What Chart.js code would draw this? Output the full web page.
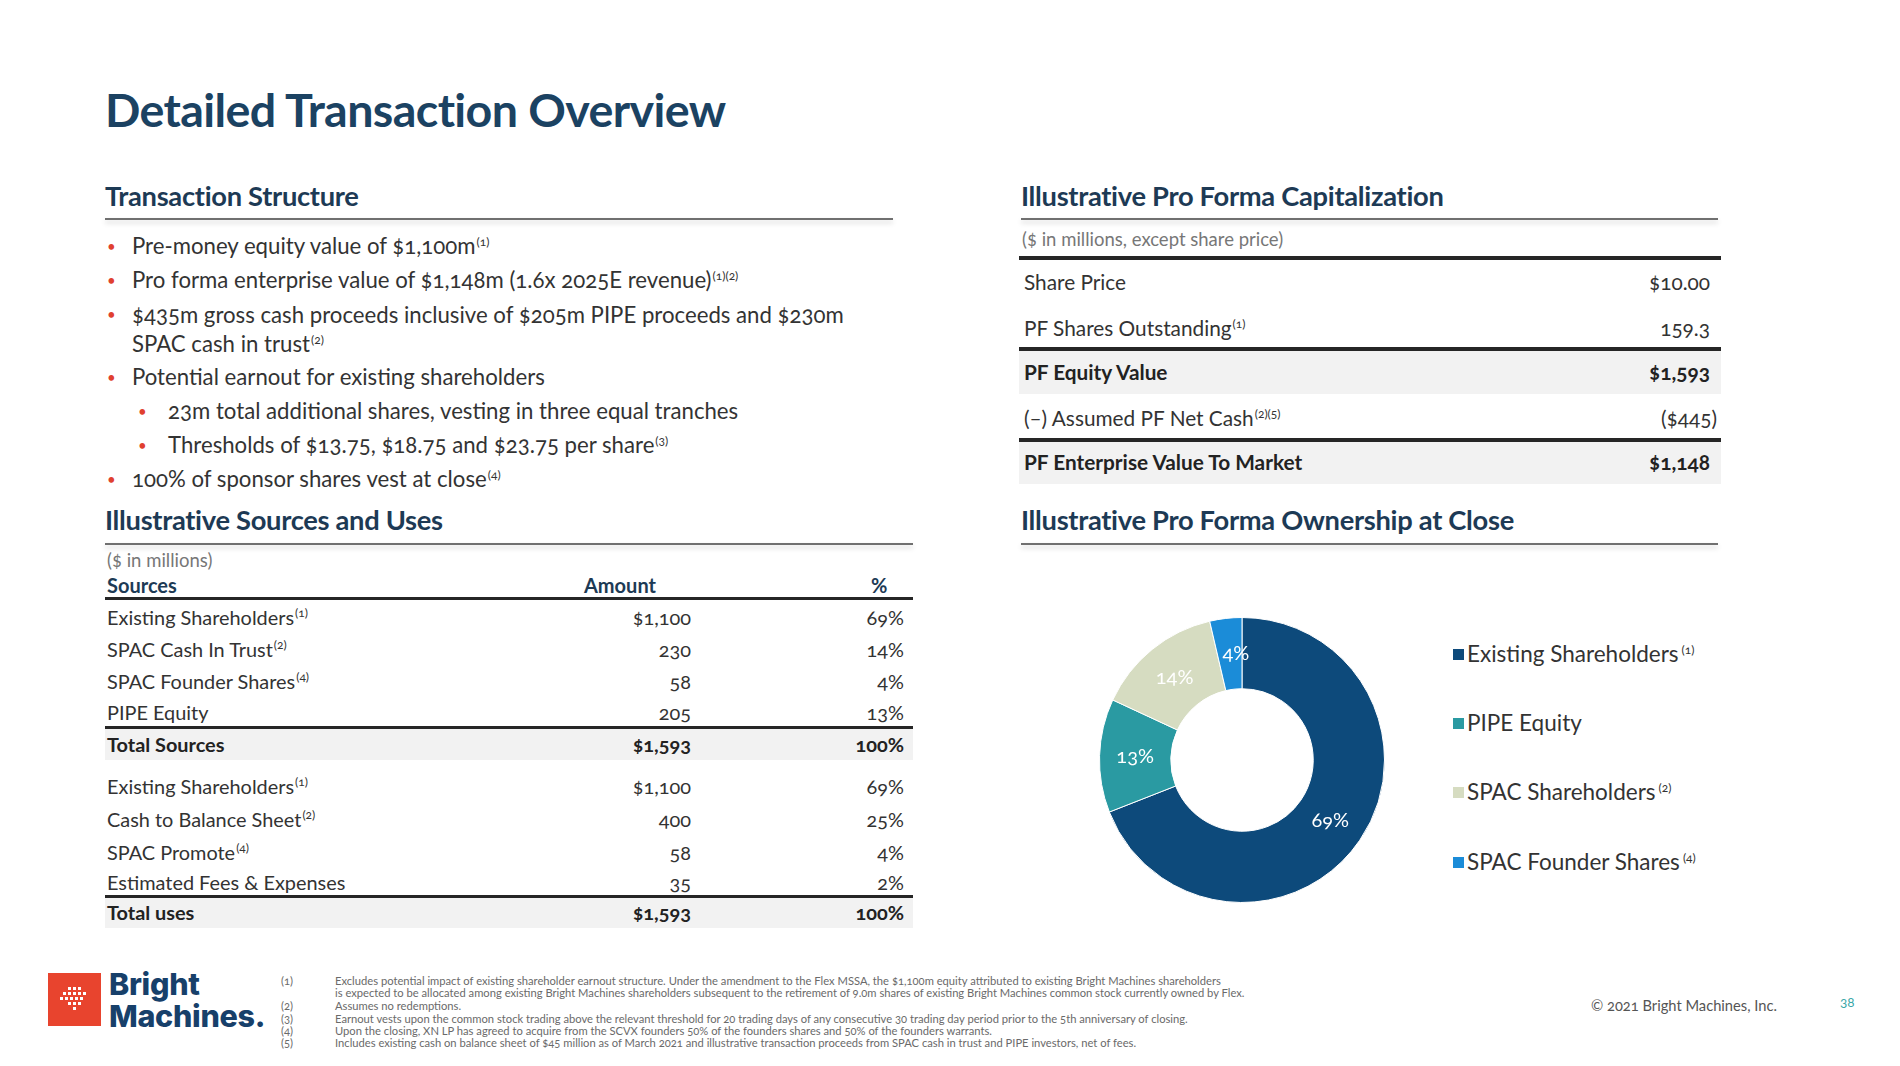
<!DOCTYPE html>
<html><head><meta charset="utf-8">
<script src="https://cdn.jsdelivr.net/npm/chart.js@4.4.1/dist/chart.umd.min.js"></script>
<style>
html,body{margin:0;padding:0;background:#fff;}
body{width:1900px;height:1066px;position:relative;overflow:hidden;font-family:Lato,'Open Sans',sans-serif;color:#333;font-variant-numeric:oldstyle-nums;}
.a{position:absolute;white-space:nowrap;}
.title{left:105px;top:80px;font-size:46.6px;font-weight:700;color:#1b4262;line-height:58px;letter-spacing:-0.6px;}
.h2{font-size:27.3px;color:#1d3a55;line-height:34px;font-weight:700;letter-spacing:-0.3px;}
.rule{position:absolute;height:2px;background:#707070;box-shadow:0 3px 5px rgba(0,0,0,0.18);}
.thick{position:absolute;background:#262626;}
.bg{position:absolute;background:#f2f2f2;}
.b{font-size:22.2px;line-height:28px;color:#333;}
.dot{color:#e0402f;font-size:15px;line-height:28px;}
sup{font-size:12px;vertical-align:top;position:relative;top:-4px;margin-left:1px;}
.t{font-size:19.9px;line-height:26px;color:#333;}
.c{font-size:20.8px;line-height:26px;color:#333;}
.small{font-size:18.5px;line-height:24px;color:#777;}
.bold{font-weight:700;color:#222;}
.hdr{font-size:20px;line-height:26px;color:#1d3a55;font-weight:700;}
.fn{font-size:11.2px;line-height:13px;color:#6a6a6a;}
.leg{font-size:22.5px;line-height:30px;color:#333;}
.sq{position:absolute;width:11px;height:11px;}
.logo{position:absolute;width:160px;white-space:normal;font-family:Inter,Lato,sans-serif;font-size:30.5px;line-height:32px;font-weight:800;color:#17406a;letter-spacing:-0.3px;font-variant-numeric:normal;}
</style></head>
<body>
<div class="a title">Detailed Transaction Overview</div>

<div class="a h2" style="left:105px;top:179px;">Transaction Structure</div>
<div class="rule" style="left:105px;top:218px;width:788px;"></div>
<div id="bullets"></div>

<div class="a h2" style="left:105px;top:503px;">Illustrative Sources and Uses</div>
<div class="rule" style="left:105px;top:543px;width:808px;"></div>
<div id="su"></div>

<div class="a h2" style="left:1021px;top:179px;">Illustrative Pro Forma Capitalization</div>
<div class="rule" style="left:1021px;top:218px;width:697px;"></div>
<div id="cap"></div>

<div class="a h2" style="left:1021px;top:503px;">Illustrative Pro Forma Ownership at Close</div>
<div class="rule" style="left:1021px;top:543px;width:697px;"></div>

<canvas id="donut" width="300" height="300" style="position:absolute;left:1092px;top:610px;width:300px;height:300px;"></canvas>
<div id="legend"></div>

<!-- logo -->
<svg class="a" style="left:48px;top:973px;" width="53" height="53" viewBox="0 0 53 53">
  <rect width="53" height="53" fill="#e8442e"/>
  <g fill="#fff">
    <rect x="20" y="14" width="3" height="3"/><rect x="25" y="14" width="3" height="3"/><rect x="30" y="14" width="3" height="3"/>
    <rect x="15" y="19" width="3" height="3"/><rect x="20" y="19" width="3" height="3"/><rect x="25" y="19" width="3" height="3"/><rect x="30" y="19" width="3" height="3"/><rect x="35" y="19" width="3" height="3"/>
    <rect x="12" y="24" width="3" height="3"/><rect x="17" y="24" width="3" height="3"/><rect x="22" y="24" width="3" height="3"/><rect x="27" y="24" width="3" height="3"/><rect x="32" y="24" width="3" height="3"/>
    <rect x="20" y="29" width="3" height="3"/><rect x="25" y="29" width="3" height="3"/><rect x="30" y="29" width="3" height="3"/>
    <rect x="25" y="34" width="3" height="3"/>
  </g>
</svg>
<div class="logo" style="left:109px;top:968px;">Bright Machines.</div>

<div id="fnotes"></div>
<div class="a" style="left:1591px;top:996px;font-size:14.7px;line-height:18px;color:#555;">© 2021 Bright Machines, Inc.</div>
<div class="a" style="left:1840px;top:993px;font-size:13.5px;line-height:18px;color:#3aa7a7;">38</div>

<script>
// ---------------- DATA ----------------
const structureBullets = [
  {level:0, html:'Pre-money equity value of $1,100m<sup>(1)</sup>'},
  {level:0, html:'Pro forma enterprise value of $1,148m (1.6x 2025E revenue)<sup>(1)(2)</sup>'},
  {level:0, html:'$435m gross cash proceeds inclusive of $205m PIPE proceeds and $230m<br>SPAC cash in trust<sup>(2)</sup>'},
  {level:0, html:'Potential earnout for existing shareholders'},
  {level:1, html:'23m total additional shares, vesting in three equal tranches'},
  {level:1, html:'Thresholds of $13.75, $18.75 and $23.75 per share<sup>(3)</sup>'},
  {level:0, html:'100% of sponsor shares vest at close<sup>(4)</sup>'}
];

const sourceLabels = ['Existing Shareholders','SPAC Cash In Trust','SPAC Founder Shares','PIPE Equity'];
const sourceNotes = ['1','2','4',''];
const sourceAmounts = [1100, 230, 58, 205];
const sourcePct = [69, 14, 4, 13];
const sourceTotal = 1593;

const useLabels = ['Existing Shareholders','Cash to Balance Sheet','SPAC Promote','Estimated Fees & Expenses'];
const useNotes = ['1','2','4',''];
const useAmounts = [1100, 400, 58, 35];
const usePct = [69, 25, 4, 2];
const useTotal = 1593;

const capLabels = ['Share Price','PF Shares Outstanding','PF Equity Value','(–) Assumed PF Net Cash','PF Enterprise Value To Market'];
const capNotes = ['','1','','2)(5',''];
const capValues = ['$10.00','159.3','$1,593','($445)','$1,148'];

const ownershipLabels = ['Existing Shareholders','PIPE Equity','SPAC Shareholders','SPAC Founder Shares'];
const ownershipNotes = ['1','','2','4'];
const ownershipValues = [1100, 205, 230, 58];
const ownershipPct = [69, 13, 14, 4];
const ownershipColors = ['#0d4a7b','#2a9aa2','#d6dcc1','#1b8cd8'];

const footnoteNums = ['(1)','','(2)','(3)','(4)','(5)'];
const footnoteLines = [
 'Excludes potential impact of existing shareholder earnout structure. Under the amendment to the Flex MSSA, the $1,100m equity attributed to existing Bright Machines shareholders',
 'is expected to be allocated among existing Bright Machines shareholders subsequent to the retirement of 9.0m shares of existing Bright Machines common stock currently owned by Flex.',
 'Assumes no redemptions.',
 'Earnout vests upon the common stock trading above the relevant threshold for 20 trading days of any consecutive 30 trading day period prior to the 5th anniversary of closing.',
 'Upon the closing, XN LP has agreed to acquire from the SCVX founders 50% of the founders shares and 50% of the founders warrants.',
 'Includes existing cash on balance sheet of $45 million as of March 2021 and illustrative transaction proceeds from SPAC cash in trust and PIPE investors, net of fees.'
];

// ---------------- LAYOUT HELPERS ----------------
function el(parent, cls, style, html){
  const d=document.createElement('div'); d.className=cls; d.setAttribute('style',style); d.innerHTML=html; parent.appendChild(d); return d;
}
const fmt = v => v.toLocaleString('en-US');
const sup = n => n ? '<sup>('+n+')</sup>' : '';

// bullets
(function(){
  const host=document.getElementById('bullets');
  const ys=[246,280,314,377,411,445,479];
  structureBullets.forEach((b,i)=>{
    const y=ys[i];
    const bx = b.level? 138:107, tx = b.level? 168:132;
    const lh = i===2 ? 29 : 28;
    el(host,'a dot','left:'+bx+'px;top:'+(y-14)+'px;','•');
    el(host,'a b','left:'+tx+'px;top:'+(y-lh/2)+'px;line-height:'+lh+'px;', b.html);
  });
})();

// sources & uses
(function(){
  const host=document.getElementById('su');
  const R1=1900-691, R2=1900-904;
  el(host,'a small','left:107px;top:548px;','($ in millions)');
  el(host,'a hdr','left:107px;top:572px;','Sources');
  el(host,'a hdr','left:584px;top:572px;','Amount');
  el(host,'a hdr','left:871px;top:572px;','%');
  el(host,'thick','left:105px;top:597px;width:808px;height:3px;','');
  const srcY=[617,649,681,712];
  sourceLabels.forEach((l,i)=>{
    el(host,'a t','left:107px;top:'+(srcY[i]-13)+'px;', l+sup(sourceNotes[i]));
    el(host,'a t','right:'+R1+'px;top:'+(srcY[i]-13)+'px;', (i===0?'$':'')+fmt(sourceAmounts[i]));
    el(host,'a t','right:'+R2+'px;top:'+(srcY[i]-13)+'px;', sourcePct[i]+'%');
  });
  el(host,'bg','left:105px;top:729px;width:808px;height:31px;','');
  el(host,'thick','left:105px;top:726px;width:808px;height:3px;','');
  el(host,'a t bold','left:107px;top:731px;','Total Sources');
  el(host,'a t bold','right:'+R1+'px;top:731px;','$'+fmt(sourceTotal));
  el(host,'a t bold','right:'+R2+'px;top:731px;', sourcePct.reduce((a,b)=>a+b,0)+'%');
  const useY=[786,819,852,882];
  useLabels.forEach((l,i)=>{
    el(host,'a t','left:107px;top:'+(useY[i]-13)+'px;', l.replace('&','&amp;')+sup(useNotes[i]));
    el(host,'a t','right:'+R1+'px;top:'+(useY[i]-13)+'px;', (i===0?'$':'')+fmt(useAmounts[i]));
    el(host,'a t','right:'+R2+'px;top:'+(useY[i]-13)+'px;', usePct[i]+'%');
  });
  el(host,'bg','left:105px;top:898px;width:808px;height:30px;','');
  el(host,'thick','left:105px;top:895px;width:808px;height:3px;','');
  el(host,'a t bold','left:107px;top:899px;','Total uses');
  el(host,'a t bold','right:'+R1+'px;top:899px;','$'+fmt(useTotal));
  el(host,'a t bold','right:'+R2+'px;top:899px;', usePct.reduce((a,b)=>a+b,0)+'%');
})();

// capitalization
(function(){
  const host=document.getElementById('cap');
  el(host,'a small','left:1022px;top:227px;','($ in millions, except share price)');
  el(host,'thick','left:1019px;top:256px;width:702px;height:4px;','');
  el(host,'bg','left:1019px;top:350px;width:702px;height:44px;','');
  el(host,'bg','left:1019px;top:441px;width:702px;height:43px;','');
  el(host,'thick','left:1019px;top:347px;width:702px;height:3.5px;','');
  el(host,'thick','left:1019px;top:438px;width:702px;height:3.5px;','');
  const ys=[282,328,372,418,462];
  const bold=[false,false,true,false,true];
  capLabels.forEach((l,i)=>{
    el(host,'a c'+(bold[i]?' bold':''),'left:1024px;top:'+(ys[i]-13)+'px;', l+sup(capNotes[i]));
    const r = capValues[i].startsWith('(') ? 1717 : 1710;
    el(host,'a c'+(bold[i]?' bold':''),'right:'+(1900-r)+'px;top:'+(ys[i]-13)+'px;', capValues[i]);
  });
})();

// legend
(function(){
  const host=document.getElementById('legend');
  const ys=[654,723,792,862];
  ownershipLabels.forEach((l,i)=>{
    el(host,'sq','left:1453px;top:'+(ys[i]-5)+'px;background:'+ownershipColors[i]+';','');
    el(host,'a leg','left:1467px;top:'+(ys[i]-15)+'px;', l+(ownershipNotes[i]?'<sup style="margin-left:3px">('+ownershipNotes[i]+')</sup>':''));
  });
})();

// footnotes
(function(){
  const host=document.getElementById('fnotes');
  const ys=[980,992,1005,1018,1030,1042];
  footnoteLines.forEach((t,i)=>{
    if(footnoteNums[i]) el(host,'a fn','left:281px;top:'+(ys[i]-6.5)+'px;', footnoteNums[i]);
    el(host,'a fn','left:335px;top:'+(ys[i]-6.5)+'px;', t);
  });
})();

// doughnut
const sliceLabels = {
  id:'sliceLabels',
  afterDatasetsDraw(chart){
    const ctx=chart.ctx, meta=chart.getDatasetMeta(0);
    ctx.save();
    ctx.fillStyle='#ffffff';
    ctx.font='20px Lato, sans-serif';
    ctx.textAlign='center'; ctx.textBaseline='middle';
    meta.data.forEach((arc,i)=>{
      const p=arc.tooltipPosition();
      ctx.fillText(ownershipPct[i]+'%', p.x + (i===3?6:0), p.y);
    });
    ctx.restore();
  }
};
new Chart(document.getElementById('donut'),{
  type:'doughnut',
  data:{labels:ownershipLabels,datasets:[{data:ownershipValues,backgroundColor:ownershipColors,borderColor:'#ffffff',borderWidth:1}]},
  options:{responsive:false,animation:false,cutout:'50%',layout:{padding:7},
    plugins:{legend:{display:false},tooltip:{enabled:false}}},
  plugins:[sliceLabels]
});
</script>
</body></html>
